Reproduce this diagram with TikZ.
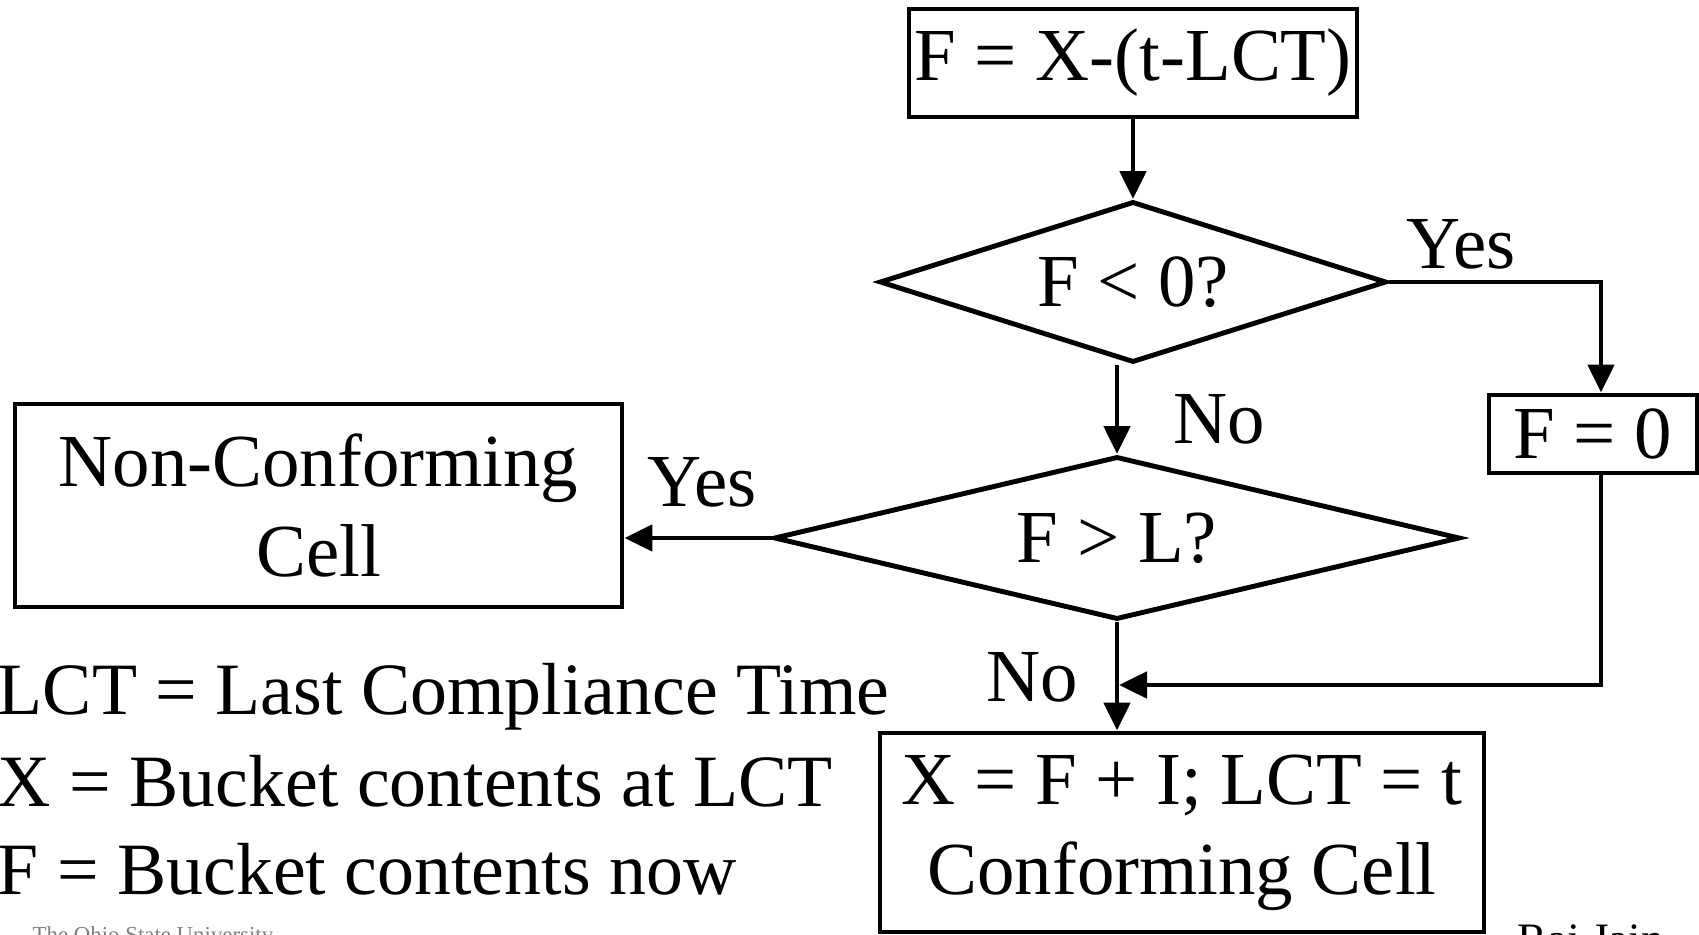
\documentclass[tikz,border=0pt]{standalone}
\usepackage{fontspec}
\setmainfont{Liberation Serif}
\usetikzlibrary{shapes.geometric,arrows.meta}

\tikzset{
  box/.style={draw, line width=1.4pt, inner sep=0pt, align=center},
  dec/.style={draw, diamond, line width=1.4pt, inner sep=0pt},
  arr/.style={line width=1.4pt, -{Triangle[length=2.8mm,width=2.6mm]}},
  lbl/.style={inner sep=0pt},
}

\begin{document}
\begin{tikzpicture}[font=\fontsize{21.3pt}{25.6pt}\selectfont]
            \useasboundingbox (0,0) rectangle (16.99,9.35);
            \clip (0,0) rectangle (16.99,9.35);
            % flow boxes and tests
            \node[box, minimum width=4.48cm, minimum height=1.08cm] (calc) at (11.33,8.72) {F = X-(t-LCT)};
            \node[dec, aspect=3.15, minimum width=5.07cm, minimum height=1.61cm] (neg) at (11.33,6.53) {F < 0?};
            \node[dec, aspect=4.2, minimum width=6.86cm, minimum height=1.63cm] (over) at (11.17,3.97) {F > L?};
            \node[box, minimum width=2.08cm, minimum height=0.78cm] (zero) at (15.93,5.01) {F = 0};
            \node[box, minimum width=6.07cm, minimum height=2.03cm] (nonconf) at (3.185,4.295) {Non-Conforming\\Cell};
            \node[box, minimum width=6.04cm, minimum height=1.99cm] (conf) at (11.82,1.025) {X = F + I; LCT = t\\Conforming Cell};
            \coordinate (merge) at (11.19,2.50);
            % connectors
            \draw[arr] (calc.south) -- (neg.north);
            \draw[arr] (neg.south -| over.north) -- (over.north);
            \draw[arr] (neg.east) -| ([xshift=0.08cm]zero.north);
            \draw[arr] (over.west) -- (over.west -| nonconf.east);
            \draw[arr] (over.south) -- (over.south |- conf.north);
            \draw[arr] ([xshift=0.08cm]zero.south) |- (merge);
            % branch labels
            \node[lbl, anchor=base west] (yes1) at (14.06,6.66) {Yes};
            \node[lbl, anchor=base west] (no1) at (11.73,4.91) {No};
            \node[lbl, anchor=base west] (yes2) at (6.47,4.28) {Yes};
            \node[lbl, anchor=base west] (no2) at (9.86,2.33) {No};
            % legend
            \node[lbl, anchor=base west, font=\fontsize{21pt}{25.6pt}\selectfont] (leg1) at (-0.03,2.20) {LCT = Last Compliance Time};
            \node[lbl, anchor=base west, font=\fontsize{21pt}{25.6pt}\selectfont] (leg2) at (-0.03,1.28) {X = Bucket contents at LCT};
            \node[lbl, anchor=base west, font=\fontsize{21pt}{25.6pt}\selectfont] (leg3) at (-0.03,0.40) {F = Bucket contents now};
            % footer, cut by the page edge
            \node[lbl, anchor=base west, gray, font=\fontsize{6.5pt}{8pt}\selectfont] (foot1) at (0.32,-0.08) {The Ohio State University};
            \node[lbl, anchor=base west, font=\fontsize{12.8pt}{15pt}\selectfont] (foot2) at (15.17,-0.20) {Raj Jain};
        \end{tikzpicture}
\end{document}
